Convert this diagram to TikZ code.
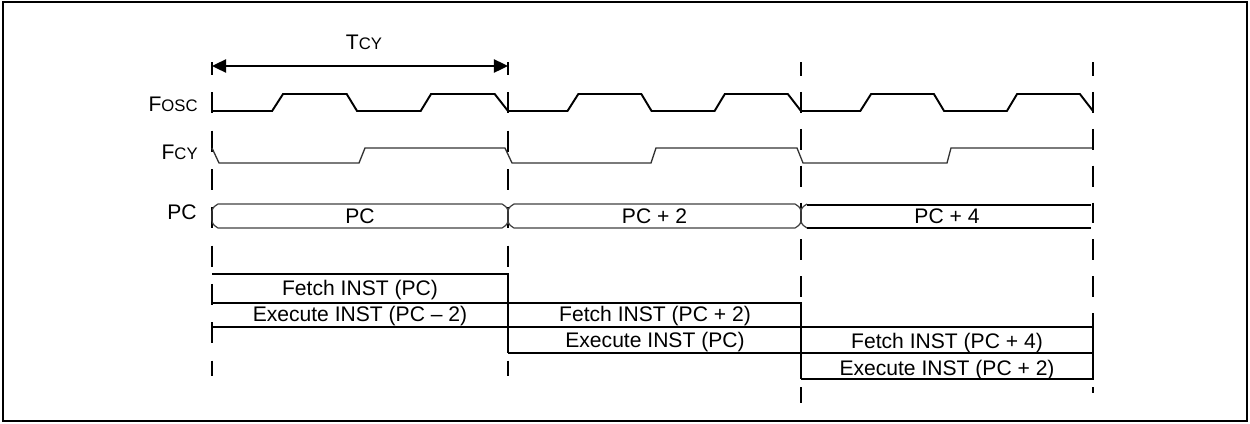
\documentclass[tikz,border=0pt]{standalone}
\usepackage{fontspec}
\setmainfont{Liberation Sans}
\usetikzlibrary{arrows.meta,calc}
\newcommand{\sm}[1]{{\fontsize{9.5}{11}\selectfont #1}}
\newcommand{\osc}[2]{\draw[wave] (#1,111) -- (#1+0.203*#2,111) -- (#1+0.24*#2,94)
  -- (#1+0.455*#2,94) -- (#1+0.49*#2,111) -- (#1+0.705*#2,111) -- (#1+0.74*#2,94)
  -- (#1+0.955*#2,94) -- (#1+#2,111);}
\newcommand{\bus}[4]{\draw[busline] (#1,216) .. controls (#1,208) .. (#1+6,204) -- (#2-6,204)
  .. controls (#2,208) .. (#2,216) .. controls (#2,224) .. (#2-6,228) -- (#1+6,228)
  .. controls (#1,224) .. cycle;
  \node[txt,anchor=base] (#4) at ({(#1+#2)/2},223) {#3};}

\begin{document}
\begin{tikzpicture}[x=0.02cm,y=-0.02cm,
  txt/.style={inner sep=0pt,font=\fontsize{12}{14}\selectfont},
  wave/.style={line width=1.1pt,line join=miter},
  thin wave/.style={line width=0.75pt,black!80},
  busline/.style={line width=0.7pt,black!75},
  box/.style={line width=1.1pt},
  guide/.style={line width=1.1pt,dash pattern=on 11.9pt off 9.9pt},
  guide2/.style={line width=1.1pt,dash pattern=on 11.9pt off 9.1pt}]
\useasboundingbox (0,0) rectangle (1250,423);
\draw[line width=1.1pt] (3,2) rectangle (1247,421);
\coordinate (e0) at (212,0);
\coordinate (e1) at (508,0);
\coordinate (e2) at (801,0);
\coordinate (e3) at (1093,0);
\coordinate (rA) at (0,274);
\coordinate (rB) at (0,303);
\coordinate (rC) at (0,327);
\coordinate (rD) at (0,353);
\coordinate (rE) at (0,379);
\coordinate (ta) at (212,66);
\coordinate (tb) at (508,66);
\draw[guide,dash phase=4.5pt] (212,62) -- (212,376);
\draw[guide,dash phase=4.5pt] (508,62) -- (508,376);
\draw[guide2,dash phase=4pt] (801,62) -- (801,403);
\draw[guide2,dash phase=4pt] (1093,62) -- (1093,393);
\draw[line width=1.1pt,{Triangle[length=8pt,width=7.5pt]}-{Triangle[length=8pt,width=7.5pt]}] (ta) -- (tb);
\node[txt,anchor=base] (tcy) at (364,49) {T\sm{CY}};
\node[txt,anchor=base east] (fosc) at (198,111) {F\sm{OSC}};
\node[txt,anchor=base east] (fcy) at (198,159) {F\sm{CY}};
\node[txt,anchor=base east] (pc) at (197,219) {PC};
\osc{212}{296}
\osc{508}{293}
\osc{801}{292}
\draw[thin wave] (212,148) -- (219,163) -- (359,163) -- (365,148) -- (505,148) -- (512,163)
  -- (651,163) -- (656,148) -- (797,148) -- (803,163) -- (947,163) -- (951,148) -- (1092,148);
\bus{212}{508}{PC}{pc0}
\bus{508}{801}{PC + 2}{pc2}
\draw[busline] (807,204) .. controls (801,208) .. (801,216) .. controls (801,224) .. (807,228);
\draw[wave] (807,205) -- (1091,205);
\draw[wave] (807,228) -- (1091,228);
\node[txt,anchor=base] (pc4) at (947,223) {PC + 4};
\draw[box] (e0|-rA) -- (e1|-rA) -- (e1|-rD);
\draw[box] (e0|-rB) -- (e2|-rB) -- (e2|-rE);
\draw[box] (e0|-rC) -- (e3|-rC) -- (e3|-rE) -- (e2|-rE);
\draw[box] (e1|-rD) -- (e3|-rD);
\node[txt,anchor=base] (fa) at (360,295) {Fetch INST (PC)};
\node[txt,anchor=base] (xa) at (360,321) {Execute INST (PC – 2)};
\node[txt,anchor=base] (fb) at (655,321) {Fetch INST (PC + 2)};
\node[txt,anchor=base] (xb) at (655,347) {Execute INST (PC)};
\node[txt,anchor=base] (fc) at (947,348) {Fetch INST (PC + 4)};
\node[txt,anchor=base] (xc) at (947,375) {Execute INST (PC + 2)};
\end{tikzpicture}
\end{document}
